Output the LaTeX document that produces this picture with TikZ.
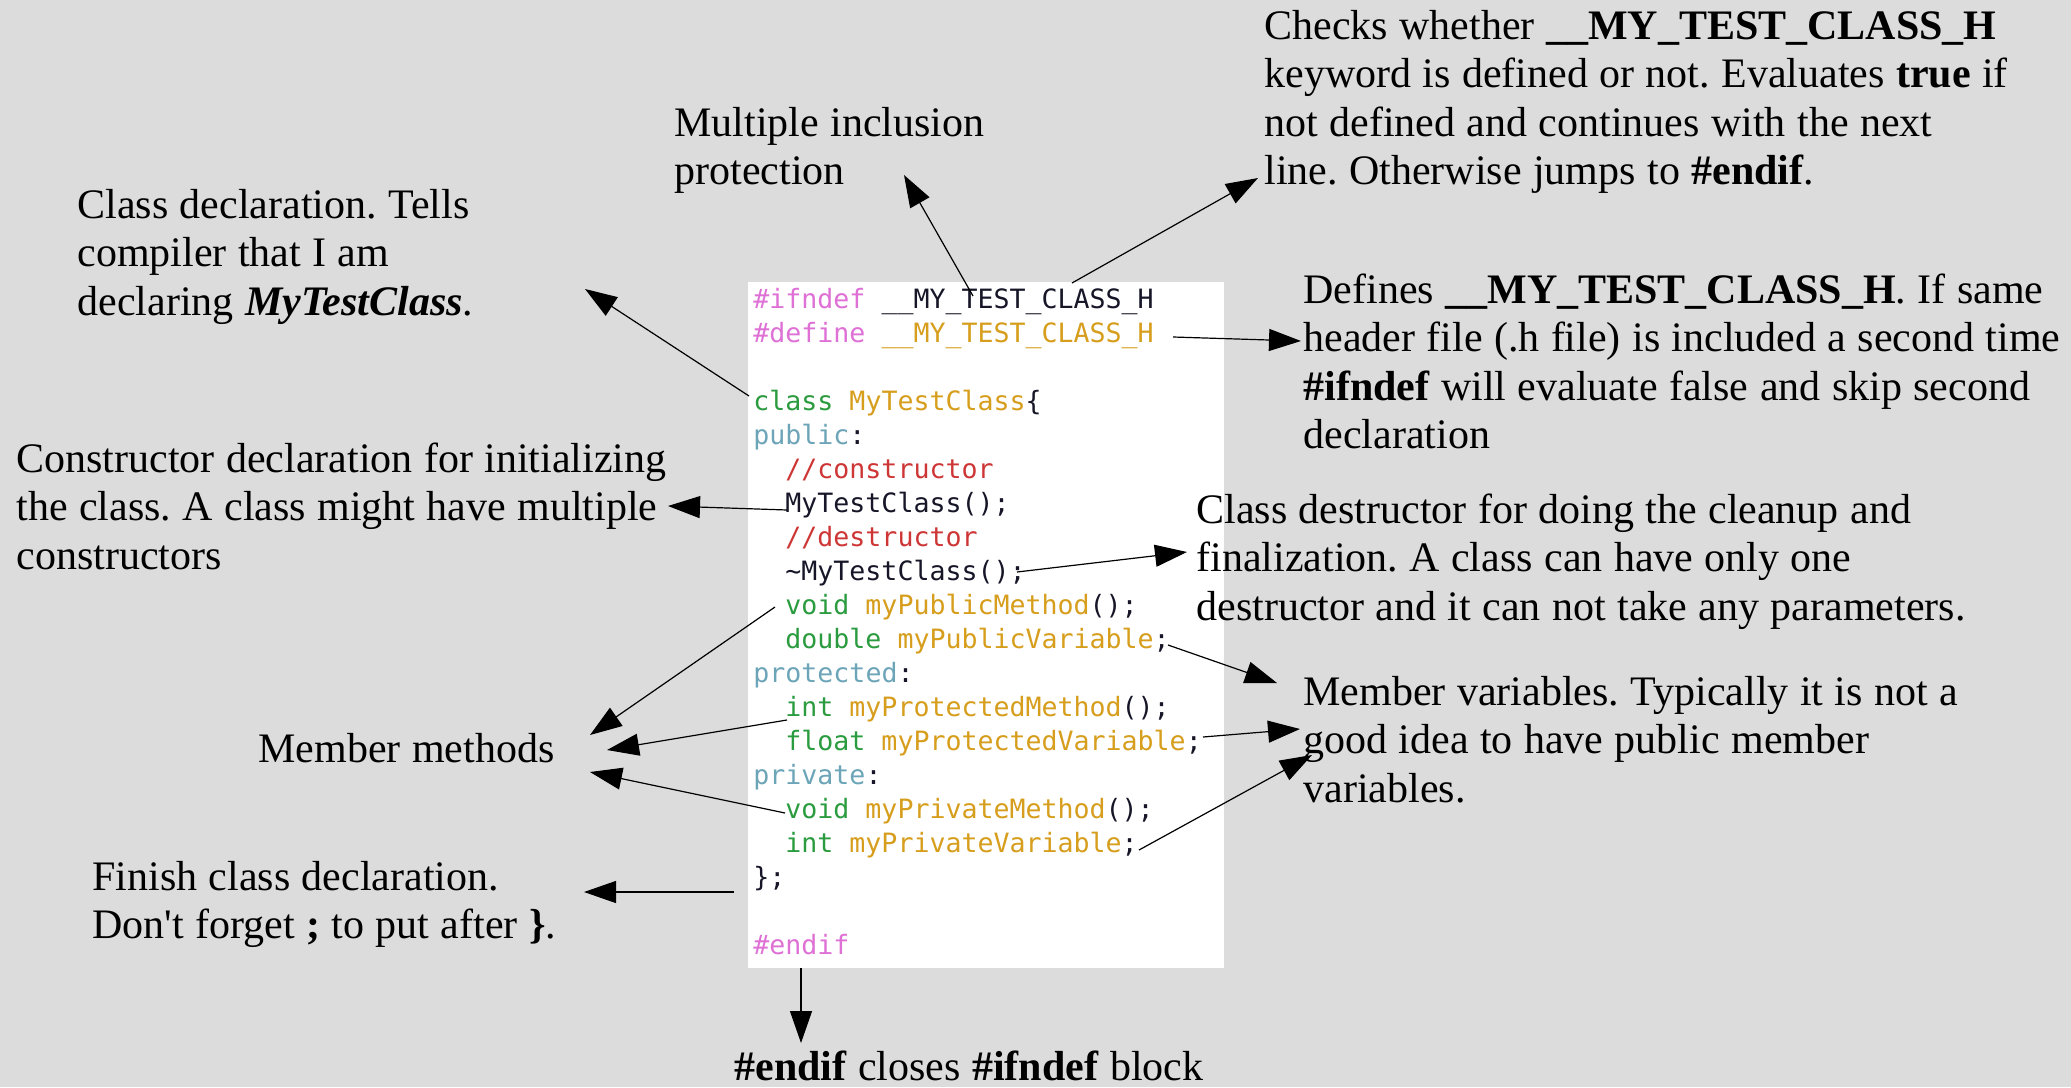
\documentclass[tikz,border=0pt]{standalone}
\usepackage{fontspec}
\setmainfont{Liberation Serif}
\newfontfamily\codefont{DejaVu Sans Mono}
\usetikzlibrary{arrows.meta}
\frenchspacing

\definecolor{bggray}{RGB}{220,220,220}
\definecolor{cdpre}{RGB}{222,112,214}
\definecolor{cdplain}{RGB}{22,22,40}
\definecolor{cdident}{RGB}{214,158,28}
\definecolor{cdtype}{RGB}{42,155,62}
\definecolor{cdaccess}{RGB}{108,164,184}
\definecolor{cdcomment}{RGB}{206,54,54}

% syntax colouring helpers for the code listing
\newcommand\hlPre[1]{\textcolor{cdpre}{#1}}
\newcommand\hlPlain[1]{\textcolor{cdplain}{#1}}
\newcommand\hlIdent[1]{\textcolor{cdident}{#1}}
\newcommand\hlType[1]{\textcolor{cdtype}{#1}}
\newcommand\hlAccess[1]{\textcolor{cdaccess}{#1}}
\newcommand\hlComment[1]{\textcolor{cdcomment}{#1}}

\begin{document}
\begin{tikzpicture}[x=0.5pt, y=-0.5pt,
  codeline/.style={anchor=base west, inner sep=0pt,
    font=\codefont\fontsize{13.3pt}{17pt}\selectfont},
  note/.style={anchor=base west, inner sep=0pt, text width=420pt, align=left,
    font=\fontsize{21pt}{24.25pt}\selectfont,
    execute at begin node={\spaceskip=5.7pt plus 1pt minus 0.5pt\relax}},
  pointer/.style={draw=black, line width=0.6pt,
    -{Triangle[length=16pt,width=11pt]}}]

% canvas
\useasboundingbox (0,0) rectangle (2071,1087);
\fill[bggray] (0,0) rectangle (2071,1087);

% code listing panel
\fill[white] (748,282) rectangle (1224,968);
\node[codeline] (c1)  at (753,308) {\hlPre{\#ifndef} \hlPlain{\_\_MY\_TEST\_CLASS\_H}};
\node[codeline] (c2)  at (753,342) {\hlPre{\#define} \hlIdent{\_\_MY\_TEST\_CLASS\_H}};
\node[codeline] (c4)  at (753,410) {\hlType{class} \hlIdent{MyTestClass}\hlPlain{\{}};
\node[codeline] (c5)  at (753,444) {\hlAccess{public}\hlPlain{:}};
\node[codeline] (c6)  at (785,478) {\hlComment{//constructor}};
\node[codeline] (c7)  at (785,512) {\hlPlain{MyTestClass();}};
\node[codeline] (c8)  at (785,546) {\hlComment{//destructor}};
\node[codeline] (c9)  at (785,580) {\hlPlain{\textasciitilde MyTestClass();}};
\node[codeline] (c10) at (785,614) {\hlType{void} \hlIdent{myPublicMethod}\hlPlain{();}};
\node[codeline] (c11) at (785,648) {\hlType{double} \hlIdent{myPublicVariable}\hlPlain{;}};
\node[codeline] (c12) at (753,682) {\hlAccess{protected}\hlPlain{:}};
\node[codeline] (c13) at (785,716) {\hlType{int} \hlIdent{myProtectedMethod}\hlPlain{();}};
\node[codeline] (c14) at (785,750) {\hlType{float} \hlIdent{myProtectedVariable}\hlPlain{;}};
\node[codeline] (c15) at (753,784) {\hlAccess{private}\hlPlain{:}};
\node[codeline] (c16) at (785,818) {\hlType{void} \hlIdent{myPrivateMethod}\hlPlain{();}};
\node[codeline] (c17) at (785,852) {\hlType{int} \hlIdent{myPrivateVariable}\hlPlain{;}};
\node[codeline] (c18) at (753,886) {\hlPlain{\};}};
\node[codeline] (c20) at (753,954) {\hlPre{\#endif}};

% explanatory notes
\node[note] (nInc) at (674,136) {Multiple inclusion\\protection};
\node[note] (nChk) at (1264,39) {Checks whether \textbf{\_\_MY\_TEST\_CLASS\_H}\\keyword is defined or not. Evaluates \textbf{true} if\\not defined and continues with the next\\line. Otherwise jumps to \textbf{\#endif}.};
\node[note] (nCls) at (77,218) {Class declaration. Tells\\compiler that I am\\declaring \textbf{\textit{MyTestClass}}.};
\node[note] (nDef) at (1303,303) {Defines \textbf{\_\_MY\_TEST\_CLASS\_H}. If same\\header file (.h file) is included a second time\\\textbf{\#ifndef} will evaluate false and skip second\\declaration};
\node[note] (nCtor) at (16,472) {Constructor declaration for initializing\\the class. A class might have multiple\\constructors};
\node[note] (nDtor) at (1196,523) {Class destructor for doing the cleanup and\\finalization. A class can have only one\\destructor and it can not take any parameters.};
\node[note] (nMeth) at (258,762) {Member methods};
\node[note] (nVar) at (1303,705) {Member variables. Typically it is not a\\good idea to have public member\\variables.};
\node[note] (nFin) at (92,890) {Finish class declaration.\\Don\textquotesingle t forget \textbf{;} to put after \textbf{\}}.};
\node[note] (nEnd) at (734,1080) {\textbf{\#endif} closes \textbf{\#ifndef} block};

% connector end points on the listing
\coordinate (sInc)  at (973,296);
\coordinate (sChk)  at (1072,283);
\coordinate (sCls)  at (749,396);
\coordinate (sDef)  at (1173,337);
\coordinate (sCtor) at (787,510);
\coordinate (sDtor) at (1017,572);
\coordinate (sM1)   at (775,607);
\coordinate (sM2)   at (787,720);
\coordinate (sM3)   at (785,813);
\coordinate (sV1)   at (1168,645);
\coordinate (sV2)   at (1203,737);
\coordinate (sV3)   at (1139,850);
\coordinate (sFin)  at (734,892);
\coordinate (sEnd)  at (801,968);

% connector end points at the notes
\coordinate (tInc)  at (904,175);
\coordinate (tChk)  at (1258,178);
\coordinate (tCls)  at (585,289);
\coordinate (tDef)  at (1301,341);
\coordinate (tCtor) at (668,506);
\coordinate (tDtor) at (1187,552);
\coordinate (tM1)   at (590,735);
\coordinate (tM2)   at (607,750);
\coordinate (tM3)   at (590,772);
\coordinate (tV1)   at (1277,683);
\coordinate (tV2)   at (1300,729);
\coordinate (tV3)   at (1312,755);
\coordinate (tFin)  at (584,892);
\coordinate (tEnd)  at (801,1043);

% connectors
\draw[pointer] (sInc) -- (tInc);
\draw[pointer] (sChk) -- (tChk);
\draw[pointer] (sCls) -- (tCls);
\draw[pointer] (sDef) -- (tDef);
\draw[pointer] (sCtor) -- (tCtor);
\draw[pointer] (sDtor) -- (tDtor);
\draw[pointer] (sM1) -- (tM1);
\draw[pointer] (sM2) -- (tM2);
\draw[pointer] (sM3) -- (tM3);
\draw[pointer] (sV1) -- (tV1);
\draw[pointer] (sV2) -- (tV2);
\draw[pointer] (sV3) -- (tV3);
\draw[pointer] (sFin) -- (tFin);
\draw[pointer] (sEnd) -- (tEnd);
\end{tikzpicture}
\end{document}
